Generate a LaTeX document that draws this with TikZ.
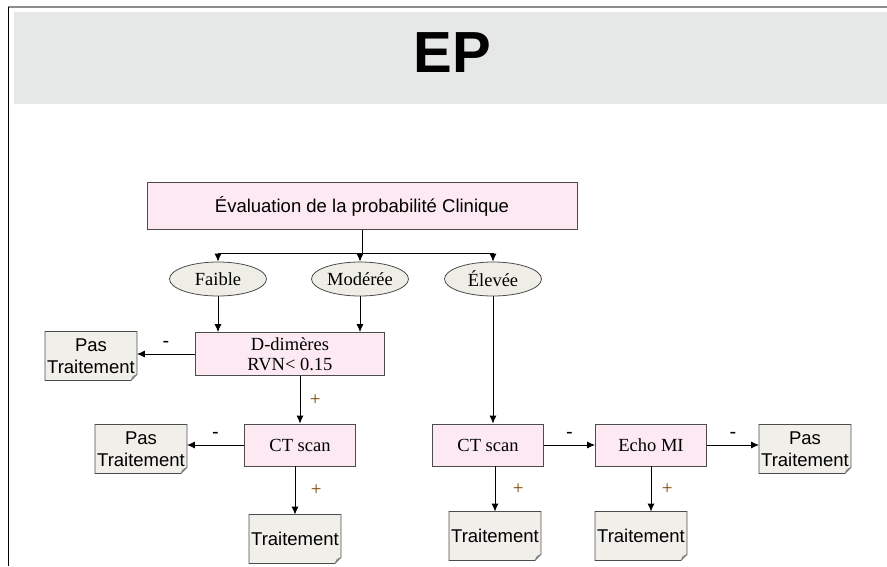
\documentclass[tikz,border=0pt]{standalone}
\usepackage{fontspec}
\setmainfont{Liberation Serif}
\setsansfont{Liberation Sans}
\usetikzlibrary{positioning,backgrounds,shapes.geometric,arrows.meta}
\definecolor{bandgray}{HTML}{E6E7E7}
\definecolor{boxpink}{HTML}{FCE9F1}
\definecolor{ovalbeige}{HTML}{EEEDE6}
\definecolor{docbeige}{HTML}{F1EFE9}
\definecolor{signbrown}{HTML}{7F3F00}
\begin{document}
\begin{tikzpicture}[x=1pt,y=-1pt,>={Latex[length=8pt,width=7pt]},line width=0.9pt]
		\tikzset{
			stepbox/.style={draw=black!70,fill=boxpink,line width=0.8pt,minimum width=111pt,minimum height=42pt,font=\fontsize{18.5}{21}\selectfont},
			level/.style={draw=black!70,fill=ovalbeige,ellipse,line width=0.8pt,minimum width=97pt,minimum height=34pt,inner sep=0pt,font=\fontsize{18.5}{21}\selectfont},
			doc/.style={minimum width=91pt,minimum height=48pt,inner sep=0pt,align=center,font=\sffamily\fontsize{18.5}{22}\selectfont},
			minus/.style={font=\sffamily\fontsize{20}{20}\selectfont},
			plus/.style={text=signbrown,font=\fontsize{19}{19}\selectfont}
		}
		\useasboundingbox (0,0) rectangle (887,566);
		
		% Frame and title band
		\draw[black!45,line width=2pt] (8,7) -- (887,7);
		\draw[black,line width=0.8pt] (8,7) -- (8,566);
		\fill[bandgray] (14,12) rectangle (887,104);
		\node (title) at (452,53) {\sffamily\bfseries\fontsize{58}{58}\selectfont EP};
		
		% Define main nodes
		\node[stepbox,minimum width=430pt,minimum height=47pt,font=\sffamily\fontsize{18.5}{21}\selectfont] (eval) at (362,206) {Évaluation de la probabilité Clinique};
		\node[level] (faible) at (218,279) {Faible};
		\node[level] (moderee) at (360,279) {Modérée};
		\node[level] (eleve) at (493,279) {Élevée};
		\node[stepbox,minimum width=189pt,minimum height=43pt,align=center,font=\fontsize{18.5}{19.5}\selectfont] (dd) at (290,354) {D-dimères\\RVN< 0.15};
		\node[stepbox] (ct1) at (300,445) {CT scan};
		\node[stepbox] (ct2) at (488,445) {CT scan};
		\node[stepbox] (echo) at (651,445) {Echo MI};
		\node[doc] (pt1) at (91,356) {Pas\\Traitement};
		\node[doc] (pt2) at (141,449) {Pas\\Traitement};
		\node[doc] (pt3) at (805,449) {Pas\\Traitement};
		\node[doc] (tr1) at (295,539) {Traitement};
		\node[doc] (tr2) at (495,536) {Traitement};
		\node[doc] (tr3) at (641,536) {Traitement};
		
		% Document shapes with folded corner
		\begin{scope}[on background layer]
			\foreach \n in {pt1,pt2,pt3,tr1,tr2,tr3} {
				\filldraw[draw=black!70,fill=docbeige,line width=0.8pt] (\n.north west) -- (\n.north east) -- ([yshift=6pt]\n.south east) -- ([xshift=-6pt]\n.south east) -- (\n.south west) -- cycle;
				\draw[black!50,line width=0.6pt] ([yshift=6pt]\n.south east) -- ([xshift=-4pt,yshift=4pt]\n.south east) -- ([xshift=-6pt]\n.south east);
			}
		\end{scope}
		
		% Branching to the three levels
		\coordinate (bus) at (362,253);
		\draw (eval.south) -- (bus);
		\draw (faible.north |- bus) -- (eleve.north |- bus);
		\foreach \n in {faible,moderee,eleve}
			\draw[->] (\n.north |- bus) -- (\n.north);
		
		% Levels to tests
		\draw[->] (faible.south) -- (faible.south |- dd.north);
		\draw[->] (moderee.south) -- (moderee.south |- dd.north);
		\draw[->] (eleve.south) -- (eleve.south |- ct2.north);
		
		% Negative branches
		\draw[->] (dd.west) -- (dd.west -| pt1.east) node[midway,above=3pt,minus] {-};
		\draw[->] (ct1.west) -- (ct1.west -| pt2.east) node[midway,above=3pt,minus] {-};
		\draw[->] (ct2.east) -- (echo.west) node[midway,above=3pt,minus] {-};
		\draw[->] (echo.east) -- (echo.east -| pt3.west) node[midway,above=3pt,minus] {-};
		
		% Positive branches
		\draw[->] (ct1.north |- dd.south) -- (ct1.north) node[midway,right=6pt,plus] {+};
		\draw[->] (tr1.north |- ct1.south) -- (tr1.north) node[midway,right=12pt,plus] {+};
		\draw[->] (tr2.north |- ct2.south) -- (tr2.north) node[midway,right=14pt,plus] {+};
		\draw[->] (echo.south) -- (echo.south |- tr3.north) node[midway,right=7pt,plus] {+};
		
		\end{tikzpicture}
\end{document}
